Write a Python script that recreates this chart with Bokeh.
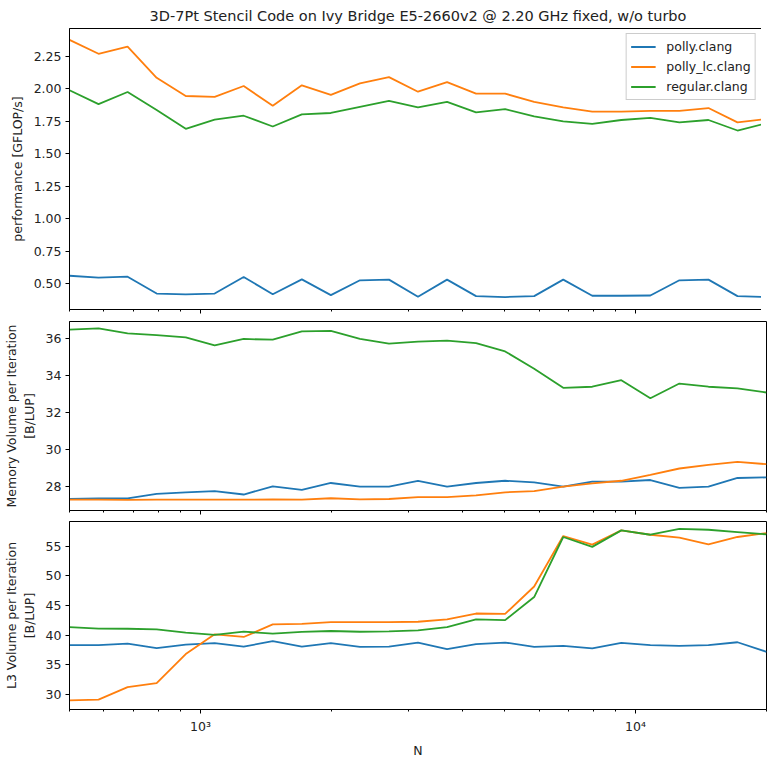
from bokeh.plotting import figure
from bokeh.layouts import column
from bokeh.models import Range1d, FixedTicker, PrintfTickFormatter, Legend, LegendItem
from bokeh.embed import file_html
from bokeh.resources import INLINE

# ---------------- data ----------------
N = [500, 583, 680, 793, 925, 1078, 1257, 1466, 1710, 1994, 2326, 2712, 3162,
     3688, 4300, 5015, 5848, 6820, 7953, 9275, 10816, 12613, 14709, 17153, 20000]

series_names = ["polly.clang", "polly_lc.clang", "regular.clang"]

perf_polly = [0.56, 0.545, 0.553, 0.423, 0.416, 0.423, 0.55, 0.418, 0.532, 0.411, 0.525,
              0.53, 0.398, 0.53, 0.403, 0.396, 0.403, 0.53, 0.406, 0.406, 0.408, 0.525,
              0.53, 0.403, 0.396]
perf_polly_lc = [2.377, 2.27, 2.326, 2.085, 1.945, 1.938, 2.022, 1.869, 2.027, 1.953, 2.042,
                 2.09, 1.978, 2.052, 1.963, 1.963, 1.90, 1.857, 1.824, 1.824, 1.831, 1.831,
                 1.852, 1.742, 1.768]
perf_regular = [1.989, 1.882, 1.976, 1.837, 1.692, 1.763, 1.793, 1.71, 1.803, 1.814, 1.862,
                1.908, 1.857, 1.90, 1.819, 1.844, 1.788, 1.75, 1.73, 1.76, 1.776, 1.742,
                1.76, 1.679, 1.735]

mem_polly = [27.35, 27.37, 27.37, 27.62, 27.69, 27.76, 27.58, 28.02, 27.83, 28.2, 28.0,
             28.0, 28.32, 28.0, 28.2, 28.32, 28.23, 28.0, 28.27, 28.27, 28.36, 27.94,
             28.0, 28.47, 28.5]
mem_polly_lc = [27.3, 27.3, 27.29, 27.3, 27.31, 27.31, 27.3, 27.32, 27.3, 27.38, 27.32,
                27.34, 27.44, 27.44, 27.53, 27.7, 27.76, 28.0, 28.18, 28.32, 28.64, 28.98,
                29.18, 29.34, 29.21]
mem_regular = [36.45, 36.52, 36.25, 36.16, 36.04, 35.6, 35.95, 35.91, 36.36, 36.39, 35.95,
               35.7, 35.81, 35.86, 35.73, 35.28, 34.35, 33.32, 33.38, 33.73, 32.76, 33.55,
               33.38, 33.29, 33.07]

l3_polly = [38.33, 38.33, 38.6, 37.83, 38.44, 38.67, 38.1, 39.0, 38.1, 38.67, 38.06,
            38.1, 38.78, 37.67, 38.5, 38.78, 38.06, 38.22, 37.78, 38.72, 38.33, 38.22,
            38.33, 38.83, 37.22]
l3_polly_lc = [29.05, 29.17, 31.28, 31.94, 36.83, 40.17, 39.72, 41.83, 41.94, 42.22, 42.22,
               42.22, 42.28, 42.67, 43.67, 43.61, 48.22, 56.72, 55.28, 57.67, 56.94, 56.44,
               55.33, 56.56, 57.22]
l3_regular = [41.39, 41.11, 41.1, 41.0, 40.44, 40.06, 40.61, 40.28, 40.56, 40.72, 40.6,
              40.65, 40.83, 41.39, 42.67, 42.56, 46.44, 56.56, 54.89, 57.67, 56.94, 57.94,
              57.78, 57.39, 57.0]

perf_ticks = [0.5, 0.75, 1.0, 1.25, 1.5, 1.75, 2.0, 2.25]
mem_ticks = [28, 30, 32, 34, 36]
l3_ticks = [30, 35, 40, 45, 50, 55]
x_major = [1000, 10000]
x_major_labels = {1000: "10³", 10000: "10⁴"}
x_minor = [m * 10 ** e for e in (2, 3, 4) for m in range(2, 10)]

title_text = "3D-7Pt Stencil Code on Ivy Bridge E5-2660v2 @ 2.20 GHz fixed, w/o turbo"

colors = ["#1f77b4", "#ff7f0e", "#2ca02c"]
FONT = "DejaVu Sans"
TXT = "#222222"

x_range = Range1d(500, 20000)


def make_fig(frame_h, y_range, min_top, min_bottom, show_xlabels):
    p = figure(frame_width=697, frame_height=frame_h, x_axis_type="log", x_range=x_range,
               y_range=y_range, output_backend="svg", toolbar_location=None,
               min_border_left=61, min_border_right=1, min_border_top=min_top,
               min_border_bottom=min_bottom)
    p.xgrid.visible = False
    p.ygrid.visible = False
    p.outline_line_color = "black"
    p.outline_line_alpha = 1.0
    p.outline_line_width = 1
    p.background_fill_color = "white"
    p.border_fill_color = "white"
    for ax in (p.xaxis[0], p.yaxis[0]):
        ax.axis_line_color = "black"
        ax.major_tick_line_color = "black"
        ax.major_tick_in = 0
        ax.major_tick_out = 4
        ax.major_label_text_font = FONT
        ax.major_label_text_font_size = "12.5px"
        ax.major_label_text_color = TXT
        ax.axis_label_text_font = FONT
        ax.axis_label_text_font_size = "12.5px"
        ax.axis_label_text_font_style = "normal"
        ax.axis_label_text_color = TXT
    p.yaxis[0].minor_tick_line_color = None
    p.yaxis[0].major_label_standoff = 4
    p.yaxis[0].axis_label_standoff = 6
    xa = p.xaxis[0]
    xa.ticker = FixedTicker(ticks=x_major, minor_ticks=x_minor)
    xa.minor_tick_line_color = "black"
    xa.minor_tick_in = 0
    xa.minor_tick_out = 2
    if show_xlabels:
        xa.major_label_overrides = x_major_labels
        xa.major_label_standoff = 5
        xa.axis_label = "N"
        xa.axis_label_standoff = 6
    else:
        xa.major_label_text_font_size = "1px"
        xa.major_label_text_color = None
        xa.major_label_standoff = 0
        xa.axis_label_standoff = 0
    return p


# -------- top: performance --------
p1 = make_fig(281, Range1d(0.30, 2.465), 22, 8, False)
p1.title.text = title_text
p1.title.align = "center"
p1.title.text_font = FONT
p1.title.text_font_size = "14.5px"
p1.title.text_font_style = "normal"
p1.title.text_color = TXT
p1.yaxis[0].ticker = FixedTicker(ticks=perf_ticks)
p1.yaxis[0].formatter = PrintfTickFormatter(format="%.2f")
p1.yaxis[0].axis_label = "performance [GFLOP/s]"
items = []
for name, ys, c in zip(series_names, [perf_polly, perf_polly_lc, perf_regular], colors):
    r = p1.line(N, ys, line_color=c, line_width=1.8)
    items.append(LegendItem(label=name, renderers=[r]))
legend = Legend(items=items, location="top_right")
legend.label_text_font = FONT
legend.label_text_font_size = "12.5px"
legend.label_text_color = TXT
legend.border_line_color = "#cccccc"
legend.border_line_alpha = 1.0
legend.background_fill_alpha = 0.85
legend.glyph_width = 25
legend.glyph_height = 17
legend.label_height = 17
legend.label_standoff = 11
legend.spacing = 3
legend.padding = 4
legend.margin = 5
p1.add_layout(legend)

# -------- middle: memory volume --------
p2 = make_fig(189, Range1d(26.72, 36.89), 4, 8, False)
p2.yaxis[0].ticker = FixedTicker(ticks=mem_ticks)
p2.yaxis[0].axis_label = "Memory Volume per Iteration\n[B/LUP]"
for ys, c in zip([mem_polly, mem_polly_lc, mem_regular], colors):
    p2.line(N, ys, line_color=c, line_width=1.8)

# -------- bottom: L3 volume --------
p3 = make_fig(188, Range1d(27.5, 59.17), 3, 4, True)
p3.yaxis[0].ticker = FixedTicker(ticks=l3_ticks)
p3.yaxis[0].axis_label = "L3 Volume per Iteration\n[B/LUP]"
for ys, c in zip([l3_polly, l3_polly_lc, l3_regular], colors):
    p3.line(N, ys, line_color=c, line_width=1.8)

layout = column(p1, p2, p3, spacing=0)
open("out.html", "w").write(file_html(layout, INLINE))
